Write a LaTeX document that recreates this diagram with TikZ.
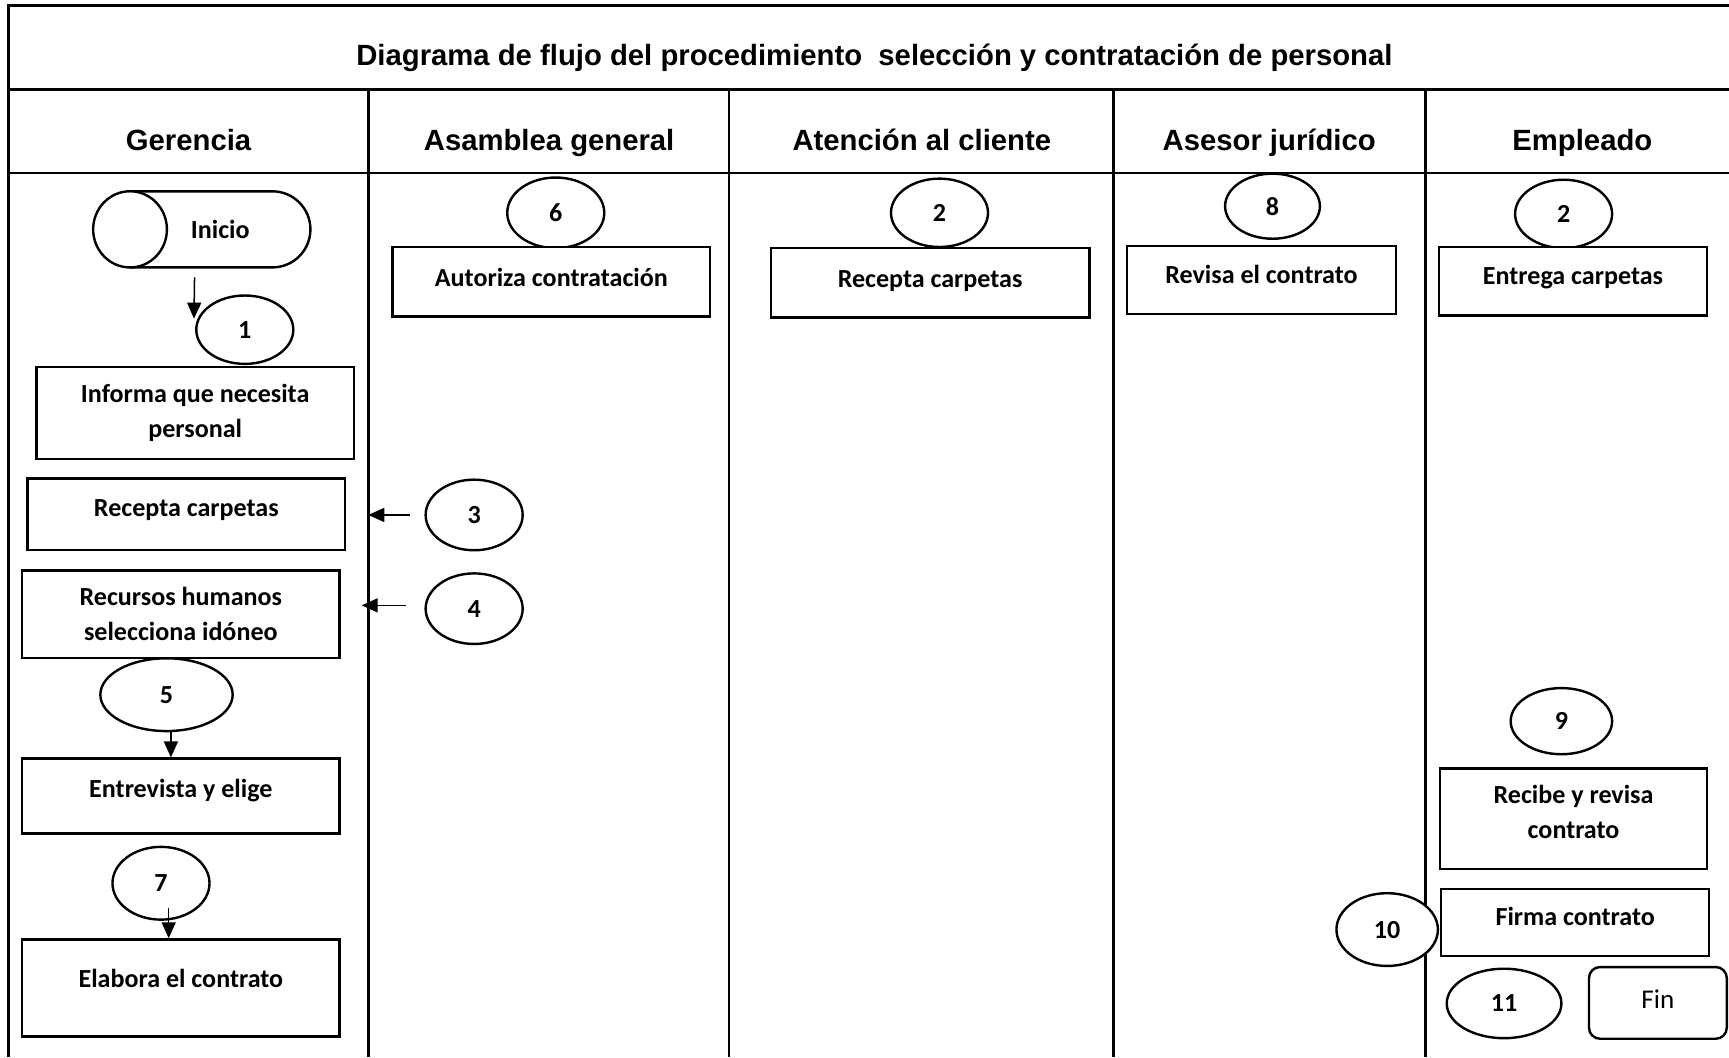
\documentclass[tikz,border=0pt]{standalone}
\usepackage{fontspec}
\setmainfont{Carlito}
\newfontfamily\headfont{Liberation Sans}
\usetikzlibrary{shapes.geometric,shapes.misc,arrows.meta,calc}

\begin{document}
\begin{tikzpicture}[x=0.55pt,y=-0.55pt,
  frame/.style={line width=1.35pt},
  head/.style={font=\headfont\bfseries\fontsize{14.6}{17}\selectfont, inner sep=0,
    text height=0.72em, text depth=0pt},
  sz/.style 2 args={minimum width=#1*0.55pt, minimum height=#2*0.55pt},
  stepbox/.style={draw, line width=1.2pt, rectangle, fill=white, inner sep=0, align=center,
    font=\bfseries\fontsize{13}{17.6}\selectfont},
  tup/.style={text height=0.6em, text depth=#1*1.1pt},
  num/.style={ellipse, draw, fill=white, line width=1.2pt, inner sep=0, sz={88}{64},
    font=\bfseries\fontsize{13}{15}\selectfont},
  arr/.style={-{Triangle[length=8pt,width=7pt]}, line width=0.75pt}]

\useasboundingbox (0,0) rectangle (1568,959);

% table frame and swimlanes
\coordinate (laneA) at (334,81);
\coordinate (laneB) at (661,81);
\coordinate (laneC) at (1010,81);
\coordinate (laneD) at (1293,81);
\draw[frame] (8,959) -- (8,5) -- (1568,5);
\draw[frame] (8,81) -- (1568,81);
\draw[frame] (8,157) -- (1568,157);
\foreach \l in {laneA,laneB,laneC,laneD}
  \draw[frame] (\l) -- (\l |- 0,959);

% title and lane headers
\node[head] (title) at (793,53) {Diagrama de flujo del procedimiento\ \ selección y contratación de personal};
\node[head] (hGer) at (171,130) {Gerencia};
\node[head] (hAsa) at (498,130) {Asamblea general};
\node[head] (hAte) at (836,130) {Atención al cliente};
\node[head] (hAse) at (1151,130) {Asesor jurídico};
\node[head] (hEmp) at (1435,130) {Empleado};

% Gerencia
\node[rounded rectangle, rounded rectangle left arc=none, draw, line width=1.2pt, sz={162.5}{69},
  inner sep=0, font=\bfseries\fontsize{13}{15}\selectfont] (inicio) at (199.75,208) {Inicio};
\draw[line width=1.2pt, fill=white] (inicio.west) ellipse [x radius=18.4pt, y radius=19pt];
\node[stepbox, sz={288}{83}] (informa) at (177,374.5) {Informa que necesita\\personal};
\node[stepbox, sz={288}{65}, tup=3.5] (recG) at (169,466.5) {Recepta carpetas};
\node[stepbox, sz={288}{79}] (rrhh) at (164,557) {Recursos humanos\\selecciona idóneo};
\node[stepbox, sz={288}{68}, tup=4] (entrevista) at (164,722) {Entrevista y elige};
\node[stepbox, sz={288}{88}, tup=6] (elabora) at (164,896) {Elabora el contrato};
\node[num, sz={88}{62}] (e1) at (222,299) {1};
\node[num, sz={120}{66}] (e5) at (151,630) {5};
\node[num, sz={88}{66}] (e7) at (146,801) {7};

% Asamblea general
\node[num] (e3) at (430,467) {3};
\node[num] (e4) at (430,552) {4};
\node[num] (e6) at (504,193) {6};
\node[stepbox, sz={288}{63}, tup=1.5] (autoriza) at (500,255.5) {Autoriza contratación};

% Atencion al cliente
\node[num, sz={88}{62}] (e2a) at (852,193) {2};
\node[stepbox, sz={289}{63}, tup=1.5] (recAC) at (843.5,256.5) {Recepta carpetas};

% Asesor juridico
\node[num, sz={86}{59}] (e8) at (1154,187) {8};
\node[stepbox, sz={244}{62}, tup=2] (revisa) at (1144,254) {Revisa el contrato};

% Empleado
\node[num, sz={88}{62}] (e2b) at (1418,194) {2};
\node[stepbox, sz={243}{62}, tup=2] (entrega) at (1426.5,255) {Entrega carpetas};
\node[num, sz={92}{60}] (e9) at (1416,654) {9};
\node[stepbox, sz={242}{91}] (recibe) at (1427,742.5) {Recibe y revisa\\contrato\rule[-7pt]{0pt}{7pt}};
\node[stepbox, sz={243}{61}, tup=2.5] (firma) at (1428.5,836.5) {Firma contrato};
\node[num, sz={92}{66}] (e10) at (1258,843) {10};
\node[num, sz={104}{63}] (e11) at (1364,910) {11};
\node[draw, rounded corners=5.5pt, line width=1.2pt, sz={125}{65}, inner sep=0,
  font=\fontsize{13.5}{16}\selectfont, tup=0] (fin) at (1503.5,909.5) {Fin};

% connectors
\coordinate (a1) at ($(inicio.south west)+(58.5,8)$);
\coordinate (a3) at ($(e3.west)+(-13,0)$);
\coordinate (a4) at ($(e4.west)+(-17,-3)$);
\coordinate (a5) at ($(e5.south)+(4,0)$);
\coordinate (a7) at ($(e7.south)+(7,-12)$);
\draw[arr] (a1) -- ($(e1.west)+(-1,-10)$);
\draw[arr] (a3) -- (laneA |- a3);
\draw[arr] (a4) -- ($(laneA |- a4)+(-6,0)$);
\draw[arr] (a5) -- (a5 |- entrevista.north);
\draw[arr] (a7) -- (a7 |- elabora.north);

\end{tikzpicture}
\end{document}
